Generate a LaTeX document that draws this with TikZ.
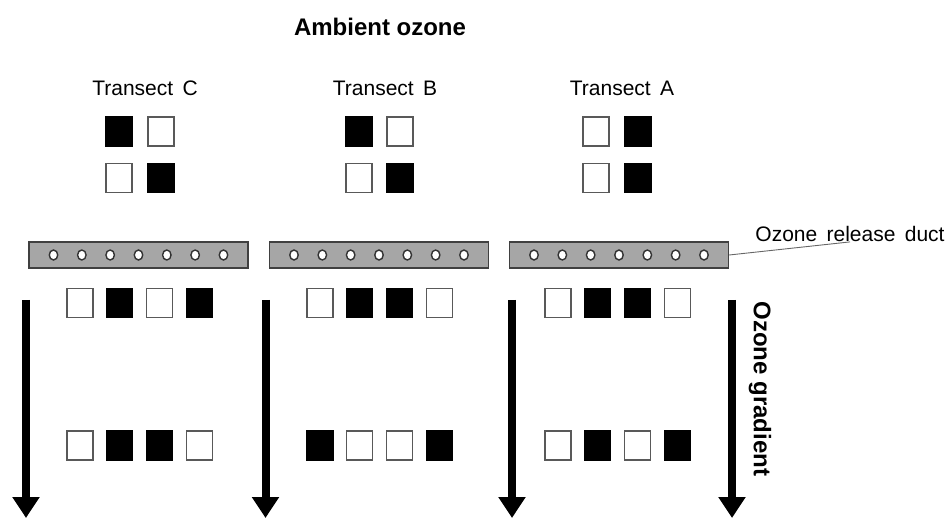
\documentclass[tikz,border=0pt]{standalone}
\usepackage{fontspec}
\setmainfont{Liberation Sans}
\newfontfamily\widefont[WordSpace=1.6]{Liberation Sans}
\usetikzlibrary{arrows.meta,shapes.geometric}

\begin{document}
\begin{tikzpicture}[
  x=1pt, y=-1pt,
  lbl/.style={font=\widefont\fontsize{21}{25}\selectfont, inner sep=0pt},
  ttl/.style={font=\bfseries\fontsize{24}{28}\selectfont, inner sep=0pt},
  sq/.style={draw=black!65, line width=1.2pt, minimum width=26pt, minimum height=29pt, inner sep=0pt},
  wsq/.style={sq, fill=white},
  bsq/.style={sq, draw=black, fill=black},
  duct/.style={draw=black!75, line width=1.4pt, fill=black!35, minimum width=219pt, minimum height=26pt, inner sep=0pt},
  hole/.style={ellipse, draw=black!80, line width=1.4pt, fill=white, minimum width=8.5pt, minimum height=10pt, inner sep=0pt},
  grad/.style={-{Triangle[width=26pt,length=21pt]}, line width=8pt},
  lead/.style={draw=black!60, line width=0.9pt}
]
\useasboundingbox (0,0) rectangle (947,518);

% titles
\node[ttl] (amb) at (380,27) {Ambient ozone};
\node[lbl] (trC) at (145,88) {Transect C};
\node[lbl] (trB) at (385,88) {Transect B};
\node[lbl] (trA) at (622,88) {Transect A};

% ambient plots
\node[bsq] (aC1) at (119,131.5) {};
\node[wsq] (aC2) at (161,131.5) {};
\node[wsq] (aC3) at (119,178) {};
\node[bsq] (aC4) at (161,178) {};
\node[bsq] (aB1) at (359,131.5) {};
\node[wsq] (aB2) at (400,131.5) {};
\node[wsq] (aB3) at (359,178) {};
\node[bsq] (aB4) at (400,178) {};
\node[wsq] (aA1) at (596,131.5) {};
\node[bsq] (aA2) at (638,131.5) {};
\node[wsq] (aA3) at (596,178) {};
\node[bsq] (aA4) at (638,178) {};

% release ducts
\node[duct] (ductC) at (138.5,255) {};
\node[duct] (ductB) at (379,255) {};
\node[duct] (ductA) at (619,255) {};
\foreach \k in {0,...,6} {
  \node[hole] (oC\k) at ({138.5-85+28.33*\k},255) {};
  \node[hole] (oB\k) at ({379-85+28.33*\k},255) {};
  \node[hole] (oA\k) at ({619-85+28.33*\k},255) {};
}
\node[lbl] (ductlbl) at (850,234) {Ozone release duct};
\draw[lead] (ductA.east) -- (ductlbl.south);

% gradient plots
\foreach \s [count=\i] in {wsq,bsq,wsq,bsq}
  \node[\s] (gC\i) at ({80+39.7*(\i-1)},303) {};
\foreach \s [count=\i] in {wsq,bsq,bsq,wsq}
  \node[\s] (hC\i) at ({80+39.7*(\i-1)},445.5) {};
\foreach \s [count=\i] in {wsq,bsq,bsq,wsq}
  \node[\s] (gB\i) at ({320+39.7*(\i-1)},303) {};
\foreach \s [count=\i] in {bsq,wsq,wsq,bsq}
  \node[\s] (hB\i) at ({320+39.7*(\i-1)},445.5) {};
\foreach \s [count=\i] in {wsq,bsq,bsq,wsq}
  \node[\s] (gA\i) at ({558+39.7*(\i-1)},303) {};
\foreach \s [count=\i] in {wsq,bsq,wsq,bsq}
  \node[\s] (hA\i) at ({558+39.7*(\i-1)},445.5) {};

% gradient arrows
\coordinate (top1) at (26,300);   \coordinate (bot1) at (26,518);
\coordinate (top2) at (265.5,300); \coordinate (bot2) at (265.5,518);
\coordinate (top3) at (512,300);  \coordinate (bot3) at (512,518);
\coordinate (top4) at (732,300);  \coordinate (bot4) at (732,518);
\draw[grad] (top1) -- (bot1);
\draw[grad] (top2) -- (bot2);
\draw[grad] (top3) -- (bot3);
\draw[grad] (top4) -- (bot4);
\node[ttl, rotate=-90] (gradlbl) at (760,389) {Ozone gradient};
\end{tikzpicture}
\end{document}
